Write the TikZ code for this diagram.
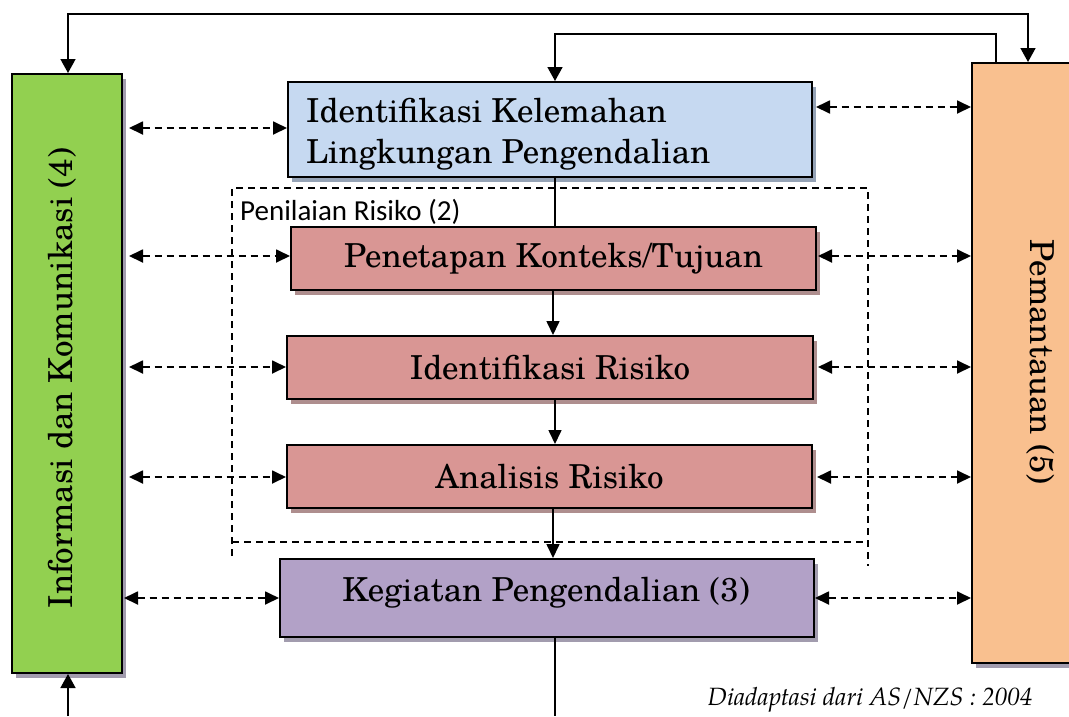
\documentclass[tikz,border=0pt]{standalone}
\usepackage{fontspec}
\setmainfont{TeX Gyre Schola}
\newfontfamily\pagfont{TeX Gyre Pagella}
\newfontfamily\calfont{Carlito}
\usetikzlibrary{arrows.meta,shadows}
\definecolor{cgreen}{HTML}{92D050}
\definecolor{cblue}{HTML}{C6D9F1}
\definecolor{cred}{HTML}{D99694}
\definecolor{cpurple}{HTML}{B2A1C7}
\definecolor{corange}{HTML}{F9C08F}
\definecolor{sgreen}{HTML}{A29CAE}
\definecolor{sblue}{HTML}{95A3B6}
\definecolor{sred}{HTML}{AE8E8E}
\definecolor{spurple}{HTML}{A29CAE}
\tikzset{
  boxnode/.style={draw=black, line width=2pt, inner sep=0pt, align=center, font=\fontsize{33}{40}\selectfont},
  shad/.style={drop shadow={shadow xshift=4pt, shadow yshift=-5pt, fill=#1, opacity=1}},
  sline/.style={line width=1.6pt},
  dline/.style={line width=1.8pt, dash pattern=on 7pt off 5pt},
  darr/.style={dline, {Triangle[length=14pt,width=13pt]}-{Triangle[length=14pt,width=13pt]}},
  dbox/.style={line width=1.6pt, dash pattern=on 7pt off 5pt}
}
\begin{document}
\begin{tikzpicture}[x=1pt,y=-1pt]
\useasboundingbox (0,0) rectangle (1069,716);
\clip (0,0) rectangle (1069,716);
% boxes
\node[boxnode, shad=sgreen, fill=cgreen, minimum width=110pt, minimum height=599pt] (green) at (67,373.5) {};
\node[rotate=90, font=\fontsize{33}{40}\selectfont] (greentext) at (62,378) {Informasi dan Komunikasi (4)};
\node[boxnode, shad=sgreen, fill=corange, minimum width=138pt, minimum height=600pt] (orange) at (1041,363) {};
\node[rotate=-90, font=\fontsize{33}{40}\selectfont] (orangetext) at (1041,362) {Pemantauan (5)};
\node[boxnode, shad=sblue, fill=cblue, minimum width=524pt, minimum height=95pt] (blue) at (550,129.5) {};
\node[anchor=west, inner sep=0pt, align=left, font=\fontsize{33}{41}\selectfont] (bluetext) at (306,134) {Identifikasi Kelemahan\\Lingkungan Pengendalian};
\node[boxnode, shad=sred, fill=cred, minimum width=525pt, minimum height=63pt] (red1) at (553.5,258.5) {Penetapan Konteks/Tujuan};
\node[boxnode, shad=sred, fill=cred, minimum width=526pt, minimum height=63pt] (red2) at (550,367.5) {Identifikasi Risiko};
\node[boxnode, shad=sred, fill=cred, minimum width=525pt, minimum height=63pt] (red3) at (549.5,476.5) {Analisis Risiko};
\node[boxnode, shad=spurple, fill=cpurple, minimum width=534pt, minimum height=78pt] (purple) at (547,598) {};
\node[font=\fontsize{33}{40}\selectfont] (purpletext) at (546,593) {Kegiatan Pengendalian (3)};
% dashed group
\draw[dbox] (232,556) -- (232,188) -- (868,188) -- (868,566);
\draw[dbox] (232,542) -- (868,542);
\node[anchor=west, inner sep=0pt, font=\calfont\fontsize{29}{34}\selectfont] (penilaian) at (240,212) {Penilaian Risiko (2)};
% vertical connectors
\coordinate (vx) at (555,0);
\coordinate (vy) at (553,0);
\draw[sline] (blue.south -| vx) -- (red1.north -| vx);
\draw[sline, -{Triangle[length=14pt,width=13pt]}] (red1.south -| vy) -- (red2.north -| vy);
\draw[sline, -{Triangle[length=14pt,width=13pt]}] (red2.south -| vx) -- (red3.north -| vx);
\draw[sline, -{Triangle[length=14pt,width=13pt]}] (red3.south -| vy) -- (purple.north -| vy);
\coordinate (b2) at (555,716);
\draw[sline] (purple.south -| b2) -- (b2);
\coordinate (b1) at (68,716);
\draw[sline, -{Triangle[length=14pt,width=15pt]}] (b1) -- (green.south -| b1);
% top loops
\coordinate (t1) at (68,14);
\coordinate (t2) at (1028,14);
\draw[sline, {Triangle[length=14pt,width=15pt]}-{Triangle[length=14pt,width=15pt]}] (green.north -| t1) -- (t1) -- (t2) -- (orange.north -| t2);
\coordinate (u1) at (996,34);
\coordinate (u2) at (555,34);
\draw[sline, -{Triangle[length=14pt,width=15pt]}] (orange.north -| u1) -- (u1) -- (u2) -- (blue.north -| u2);
% dashed two-way arrows, left
\coordinate (lb) at ([yshift=1.5pt]blue.west);
\coordinate (lr1) at ([yshift=2.5pt]red1.west);
\coordinate (lr2) at ([yshift=0.5pt]red2.west);
\coordinate (lr3) at ([yshift=-0.5pt]red3.west);
\draw[darr] ([xshift=6pt]green.east |- lb) -- (lb);
\draw[darr] ([xshift=6pt]green.east |- lr1) -- (lr1);
\draw[darr] ([xshift=6pt]green.east |- lr2) -- (lr2);
\draw[darr] ([xshift=6pt]green.east |- lr3) -- (lr3);
\draw[darr] ([xshift=1pt]green.east |- purple.west) -- (purple.west);
% dashed two-way arrows, right
\coordinate (rb) at ([xshift=3pt,yshift=22.5pt]blue.east);
\coordinate (rr1) at ([xshift=1pt,yshift=2.5pt]red1.east);
\coordinate (rr2) at ([xshift=4pt,yshift=0.5pt]red2.east);
\coordinate (rr3) at ([xshift=4pt,yshift=-0.5pt]red3.east);
\draw[darr] (rb) -- (orange.west |- rb);
\draw[darr] (rr1) -- (orange.west |- rr1);
\draw[darr] (rr2) -- (orange.west |- rr2);
\draw[darr] (rr3) -- (orange.west |- rr3);
\draw[darr] (purple.east) -- (orange.west |- purple.east);
% source note
\node[font=\pagfont\itshape\fontsize{25}{30}\selectfont] (source) at (870,700) {Diadaptasi dari AS/NZS : 2004};
\end{tikzpicture}
\end{document}
